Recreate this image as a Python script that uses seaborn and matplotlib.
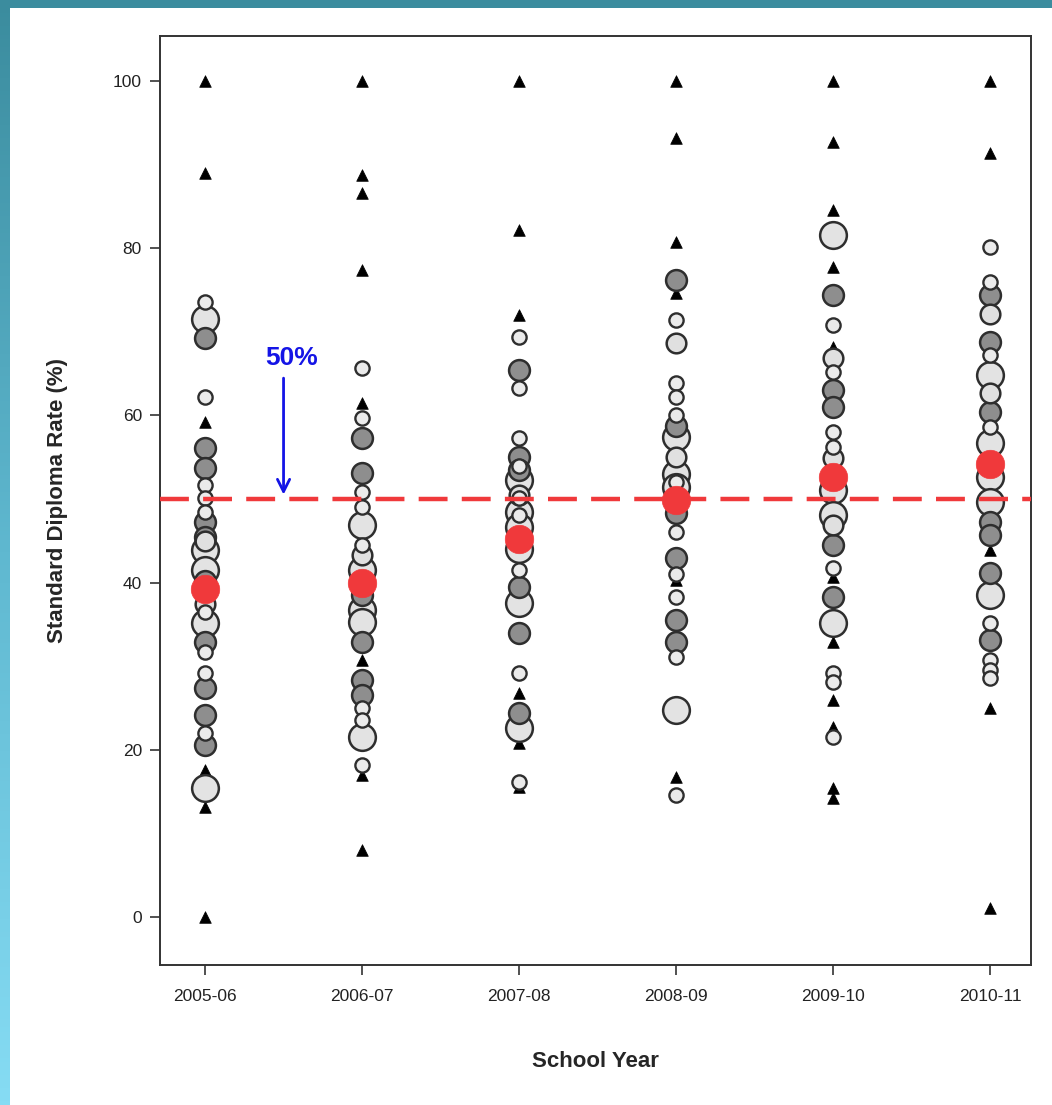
import numpy as np
import pandas as pd
import matplotlib
matplotlib.use("Agg")
import matplotlib.pyplot as plt
import seaborn as sns

# School years on the x axis
years = ["2005-06", "2006-07", "2007-08", "2008-09", "2009-10", "2010-11"]

# Standard diploma rates (%) per school, one list per school year
small_schools = [
    [100, 89.0, 59.2, 17.6, 13.2, 0],
    [100, 88.8, 86.6, 77.4, 61.5, 30.7, 17.0, 8.0],
    [100, 82.2, 72.0, 26.8, 20.8, 15.5],
    [100, 93.2, 80.7, 74.6, 40.3, 16.8],
    [100, 92.7, 84.6, 77.8, 68.2, 40.7, 32.9, 26.0, 22.7, 15.4, 14.2],
    [100, 91.4, 43.9, 25.0, 1.1],
]
light_small = [
    [73.6, 62.2, 51.7, 50.1, 48.5, 36.5, 31.7, 29.2, 22.0],
    [65.7, 59.7, 50.8, 49.0, 44.5, 25.0, 23.6, 18.2],
    [69.4, 63.3, 57.3, 54.0, 50.1, 48.1, 41.5, 29.2, 16.1],
    [71.4, 63.9, 62.2, 60.0, 52.0, 46.1, 41.0, 38.3, 31.1, 14.6],
    [70.8, 65.2, 58.0, 56.2, 41.7, 29.2, 28.1, 21.5],
    [80.1, 76.0, 67.2, 58.6, 35.2, 30.7, 29.5, 28.6],
]
light_medium = [
    [45.0, 37.5],
    [43.3],
    [50.5],
    [68.7, 55.0],
    [66.9, 54.9, 46.9],
    [72.2, 62.7],
]
gray_medium = [
    [69.3, 56.1, 53.7, 47.2, 45.5, 40.2, 32.9, 27.4, 24.2, 20.6],
    [57.3, 53.1, 38.5, 32.9, 28.3, 26.6],
    [65.4, 55.0, 53.5, 39.5, 34.0, 24.4],
    [76.2, 58.8, 48.3, 42.9, 35.5, 32.9],
    [74.4, 63.0, 61.0, 44.5, 38.3],
    [74.4, 68.8, 60.4, 47.2, 45.7, 41.1, 33.1],
]
light_large = [
    [71.6, 43.9, 41.5, 35.2, 15.4],
    [46.9, 41.5, 36.7, 35.3, 21.5],
    [52.3, 48.5, 46.7, 44.0, 37.6, 22.6],
    [57.4, 53.0, 51.5, 24.8],
    [81.6, 51.1, 48.1, 35.2],
    [64.8, 56.7, 52.6, 49.6, 38.5],
]
year_means = [39.2, 40.0, 45.2, 49.9, 52.7, 54.2]
target_rate = 50


def to_frame(groups):
    rows = [(i, v) for i, vals in enumerate(groups) for v in vals]
    return pd.DataFrame(rows, columns=["pos", "rate"])


sns.set_theme(style="white")
plt.rcParams["font.family"] = ["Liberation Sans", "DejaVu Sans"]

fig = plt.figure(figsize=(10.52, 11.05), dpi=100)
fig.patch.set_facecolor("white")

# Teal frame along the top and left edges
grad = np.linspace(0, 1, 256).reshape(-1, 1)
frame_cmap = matplotlib.colors.LinearSegmentedColormap.from_list(
    "frame", ["#3b8c9e", "#5fb8d0", "#86dcf4"])
lax = fig.add_axes([0, 0, 10 / 1052, 1])
lax.imshow(grad, aspect="auto", cmap=frame_cmap, extent=[0, 1, 1, 0])
lax.axis("off")
tax = fig.add_axes([0, 1 - 8 / 1105, 1, 8 / 1105])
tax.imshow(np.zeros((1, 2)), aspect="auto", cmap=matplotlib.colors.ListedColormap(["#3b8c9e"]))
tax.axis("off")

ax = fig.add_axes([160 / 1052, 1 - 965 / 1105, 871 / 1052, 929 / 1105])

edge = "#2e2e2e"
sns.scatterplot(data=to_frame(small_schools), x="pos", y="rate", ax=ax,
                marker="^", s=70, color="black", edgecolor="black",
                linewidth=0.5, zorder=3, legend=False)
sns.scatterplot(data=to_frame(light_large), x="pos", y="rate", ax=ax,
                marker="o", s=370, color="#e3e3e3", edgecolor=edge,
                linewidth=1.8, zorder=4, legend=False)
sns.scatterplot(data=to_frame(gray_medium), x="pos", y="rate", ax=ax,
                marker="o", s=225, color="#8e8e8e", edgecolor=edge,
                linewidth=1.8, zorder=5, legend=False)
sns.scatterplot(data=to_frame(light_medium), x="pos", y="rate", ax=ax,
                marker="o", s=200, color="#e0e0e0", edgecolor=edge,
                linewidth=1.8, zorder=5, legend=False)
sns.scatterplot(data=to_frame(light_small), x="pos", y="rate", ax=ax,
                marker="o", s=105, color="#ebebeb", edgecolor=edge,
                linewidth=1.7, zorder=6, legend=False)
means_df = pd.DataFrame({"pos": range(len(years)), "rate": year_means})
sns.scatterplot(data=means_df, x="pos", y="rate", ax=ax,
                marker="o", s=420, color="#f0393b", edgecolor="#f0393b",
                linewidth=0.5, zorder=8, legend=False)

# 50% reference line
ax.axhline(target_rate, color="#f0393b", lw=3.2, dashes=(6.5, 3.2), zorder=7)

# Arrow pointing at the 50% line
ax.annotate("", xy=(0.5, target_rate + 0.2), xytext=(0.5, 64.8),
            arrowprops=dict(arrowstyle="->", color="#1414e6", lw=2,
                            mutation_scale=22), zorder=9)
ax.text(0.55, 65.4, "50%", color="#1414e6", fontsize=19, fontweight="bold",
        ha="center", va="bottom")

ax.set_xlim(-0.287, 5.261)
ax.set_ylim(-5.74, 105.4)
ax.set_xticks(range(len(years)))
ax.set_xticklabels(years)
ax.set_yticks([0, 20, 40, 60, 80, 100])
ax.tick_params(axis="both", which="major", direction="out", length=7, width=1.2,
               color="#333333", labelsize=12.5, labelcolor="#222222",
               left=True, bottom=True, pad=6)
ax.tick_params(axis="x", pad=10)
for sp in ax.spines.values():
    sp.set_color("#333333")
    sp.set_linewidth(1.4)
ax.set_facecolor("white")
ax.set_xlabel("School Year", fontsize=16, fontweight="bold", labelpad=34)
ax.set_ylabel("Standard Diploma Rate (%)", fontsize=16, fontweight="bold", labelpad=32)

fig.savefig("out.png", dpi=100)
